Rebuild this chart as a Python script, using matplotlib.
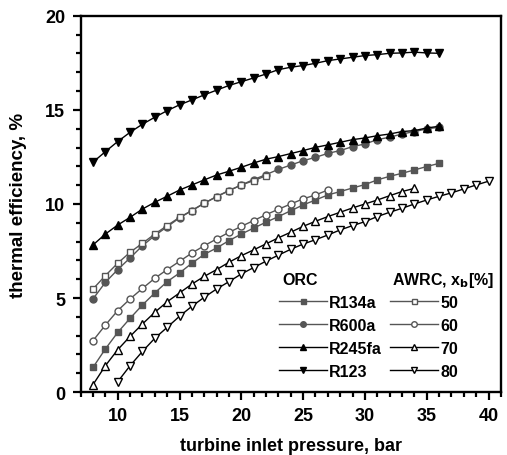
import numpy as np
import matplotlib.pyplot as plt

plt.rcParams['font.family'] = ['Liberation Sans', 'DejaVu Sans']
plt.rcParams['font.weight'] = 'bold'

# turbine inlet pressure, bar
p_orc = np.arange(8, 37)
p_50 = np.arange(8, 23)
p_60 = np.arange(8, 28)
p_70 = np.arange(8, 35)
p_80 = np.arange(10, 41)

# thermal efficiency, % (ORC)
eta_r134a = [1.31, 2.29, 3.17, 3.92, 4.63, 5.27, 5.87, 6.33, 6.85, 7.32, 7.66, 8.05, 8.40,
             8.72, 9.03, 9.33, 9.64, 9.95, 10.21, 10.48, 10.66, 10.85, 11.03, 11.28, 11.47,
             11.63, 11.81, 11.99, 12.16]
eta_r600a = [4.95, 5.83, 6.51, 7.13, 7.78, 8.32, 8.79, 9.26, 9.65, 10.04, 10.39, 10.71, 11.01,
             11.30, 11.56, 11.84, 12.07, 12.30, 12.48, 12.69, 12.84, 13.05, 13.19, 13.42, 13.55,
             13.72, 13.85, 13.99, 14.08]
eta_r245fa = [7.82, 8.40, 8.88, 9.29, 9.73, 10.09, 10.41, 10.74, 11.01, 11.28, 11.54, 11.74, 11.95,
              12.18, 12.38, 12.52, 12.68, 12.84, 13.01, 13.14, 13.28, 13.42, 13.51, 13.63, 13.72,
              13.85, 13.90, 14.04, 14.13]
eta_r123 = [12.22, 12.78, 13.32, 13.81, 14.24, 14.61, 14.96, 15.27, 15.53, 15.80, 16.05, 16.30, 16.50,
            16.70, 16.91, 17.14, 17.27, 17.36, 17.48, 17.62, 17.71, 17.80, 17.89, 17.94, 18.01,
            18.03, 18.07, 18.03, 18.01]

# thermal efficiency, % (AWRC, x_b)
eta_50 = [5.48, 6.19, 6.85, 7.43, 7.91, 8.40, 8.85, 9.29, 9.65, 10.04, 10.39, 10.71, 11.01, 11.24, 11.50]
eta_60 = [2.73, 3.56, 4.33, 4.95, 5.51, 6.05, 6.51, 6.95, 7.39, 7.78, 8.14, 8.49, 8.81,
          9.12, 9.43, 9.72, 10.00, 10.27, 10.48, 10.74]
eta_70 = [0.39, 1.40, 2.25, 2.96, 3.62, 4.24, 4.80, 5.27, 5.74, 6.15, 6.51, 6.90, 7.25,
          7.56, 7.88, 8.20, 8.50, 8.81, 9.08, 9.33, 9.56, 9.79, 10.00, 10.21, 10.44, 10.66, 10.83]
eta_80 = [0.55, 1.40, 2.16, 2.86, 3.44, 4.03, 4.56, 5.04, 5.48, 5.87, 6.28,
          6.62, 6.96, 7.28, 7.59, 7.87, 8.10, 8.35, 8.62, 8.85, 9.06, 9.33, 9.56, 9.77,
          10.00, 10.21, 10.41, 10.59, 10.80, 11.01, 11.21]

grey = '#555555'

fig = plt.figure(figsize=(5.07, 4.56), dpi=100)
ax = fig.add_axes([0.159, 0.138, 0.829, 0.825])

h1, = ax.plot(p_orc, eta_r134a, color=grey, marker='s', ms=4.5, lw=1, label='R134a')
h2, = ax.plot(p_orc, eta_r600a, color=grey, marker='o', ms=5, lw=1, label='R600a')
h3, = ax.plot(p_orc, eta_r245fa, color='black', marker='^', ms=6, lw=1, label='R245fa')
h4, = ax.plot(p_orc, eta_r123, color='black', marker='v', ms=6, lw=1, label='R123')
h5, = ax.plot(p_50, eta_50, color=grey, marker='s', ms=4.5, mfc='white', mec=grey, lw=1, label='50')
h6, = ax.plot(p_60, eta_60, color=grey, marker='o', ms=5, mfc='white', mec=grey, lw=1, label='60')
h7, = ax.plot(p_70, eta_70, color='black', marker='^', ms=6, mfc='white', lw=1, label='70')
h8, = ax.plot(p_80, eta_80, color='black', marker='v', ms=6, mfc='white', lw=1, label='80')

ax.set_xlim(7, 41)
ax.set_ylim(0, 20)
ax.set_xticks([10, 15, 20, 25, 30, 35, 40])
ax.set_yticks([0, 5, 10, 15, 20])
ax.set_xticks(np.arange(7, 42), minor=True)
ax.set_yticks(np.arange(0, 21), minor=True)
ax.tick_params(which='major', direction='out', length=6, width=1.6, labelsize=13, pad=5)
ax.tick_params(which='minor', direction='out', length=3.5, width=1.6)
for s in ax.spines.values():
    s.set_linewidth(1.7)

ax.set_xlabel('turbine inlet pressure, bar', fontsize=13, fontweight='bold', labelpad=9)
ax.set_ylabel('thermal efficiency, %', fontsize=13.5, fontweight='bold', labelpad=13)

leg = ax.legend(handles=[h1, h2, h3, h4, h5, h6, h7, h8], ncol=2, frameon=False,
                loc='upper left', bbox_to_anchor=(0.472, 0.258), fontsize=11.5,
                handlelength=3.0, handletextpad=0.15, columnspacing=0.5,
                labelspacing=0.5, borderaxespad=0, borderpad=0, markerscale=0.8)
ax.text(0.48, 0.30, 'ORC', transform=ax.transAxes, fontsize=11.5, fontweight='bold', va='center')
ax.text(0.985, 0.30, 'AWRC, x$_\\mathbf{b}$[%]', transform=ax.transAxes, fontsize=11.5,
        fontweight='bold', va='center', ha='right')

fig.savefig('out.png', dpi=100)
